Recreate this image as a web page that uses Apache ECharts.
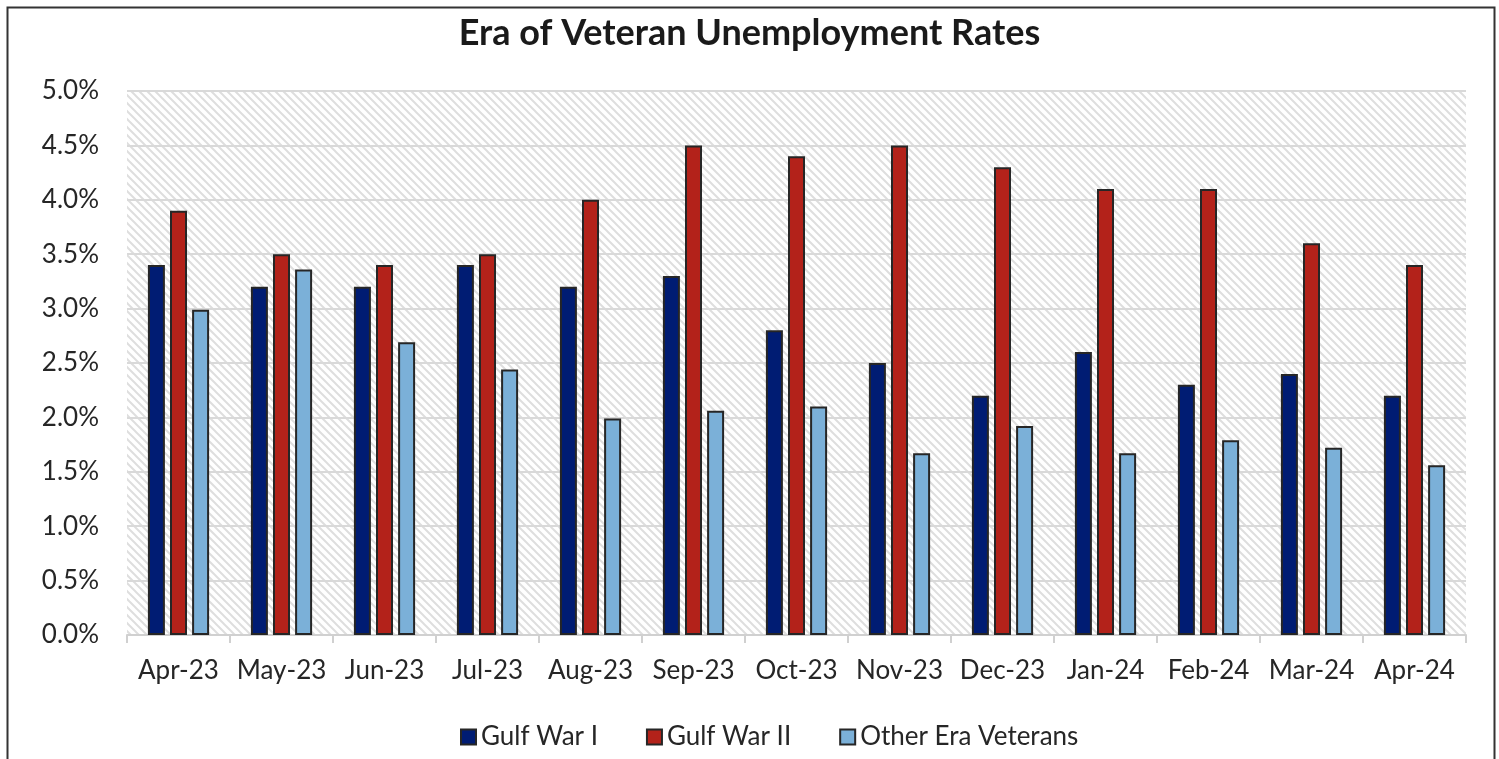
<!DOCTYPE html>
<html>
<head>
<meta charset="utf-8">
<script src="https://cdn.jsdelivr.net/npm/echarts@6/dist/echarts.min.js"></script>
<style>html,body{margin:0;padding:0;background:#fff;}#c{width:1499px;height:759px;}</style>
</head>
<body>
<div id="c"></div>
<script>
const categories = ['Apr-23','May-23','Jun-23','Jul-23','Aug-23','Sep-23','Oct-23','Nov-23','Dec-23','Jan-24','Feb-24','Mar-24','Apr-24'];
const gulfWarI = [3.4,3.2,3.2,3.4,3.2,3.3,2.8,2.5,2.2,2.6,2.3,2.4,2.2];
const gulfWarII = [3.9,3.5,3.4,3.5,4.0,4.5,4.4,4.5,4.3,4.1,4.1,3.6,3.4];
const otherEra = [2.99,3.36,2.69,2.44,1.99,2.06,2.10,1.67,1.92,1.67,1.79,1.72,1.56];

const tile = document.createElement('canvas');
tile.width = 8; tile.height = 8;
const g = tile.getContext('2d');
g.fillStyle = '#ffffff'; g.fillRect(0,0,8,8);
g.strokeStyle = '#dedede'; g.lineWidth = 2;
g.beginPath();
g.moveTo(-2,-2); g.lineTo(10,10);
g.moveTo(-6,2); g.lineTo(2,10);
g.moveTo(6,-2); g.lineTo(14,6);
g.stroke();

const chart = echarts.init(document.getElementById('c'));
const font = 'Lato';
const border = {borderColor:'#262626', borderWidth:2};
chart.setOption({
  animation:false,
  textStyle:{fontFamily:font},
  title:{text:'Era of Veteran Unemployment Rates', left:'center', top:10,
    textStyle:{fontFamily:font, fontSize:36, fontWeight:'bold', color:'#1a1a1a'}},
  legend:{bottom:4, left:455, itemWidth:15, itemHeight:15, itemGap:48,
    textStyle:{fontFamily:font, fontSize:26, color:'#262626'},
    icon:'rect'},
  grid:{left:127, right:33, top:91, bottom:124, show:true, borderWidth:0,
    backgroundColor:{image:tile, repeat:'repeat'}},
  xAxis:{type:'category', data:categories,
    axisLine:{lineStyle:{color:'#d0d0d0', width:2}},
    axisTick:{show:true, length:8, lineStyle:{color:'#d0d0d0', width:2}},
    axisLabel:{fontFamily:font, fontSize:26, color:'#262626', margin:23, interval:0}},
  yAxis:{type:'value', min:0, max:5, interval:0.5,
    axisLine:{show:false}, axisTick:{show:false},
    splitLine:{lineStyle:{color:'#d9d9d9', width:2}},
    axisLabel:{fontFamily:font, fontSize:26, color:'#262626', margin:28,
      formatter:v=>v.toFixed(1)+'%'}},
  series:[
    {name:'Gulf War I', type:'bar', data:gulfWarI, barWidth:17, barGap:'30%',
      itemStyle:Object.assign({color:'#001c73'}, border)},
    {name:'Gulf War II', type:'bar', data:gulfWarII, barWidth:17, barGap:'30%',
      itemStyle:Object.assign({color:'#b3221a'}, border)},
    {name:'Other Era Veterans', type:'bar', data:otherEra, barWidth:17, barGap:'30%',
      itemStyle:Object.assign({color:'#7bb0d8'}, border)}
  ],
  graphic:[{type:'rect', left:5, top:5, shape:{width:1487, height:780},
    style:{fill:null, stroke:'#333', lineWidth:2}, silent:true, z:100}]
});
</script>
</body>
</html>
